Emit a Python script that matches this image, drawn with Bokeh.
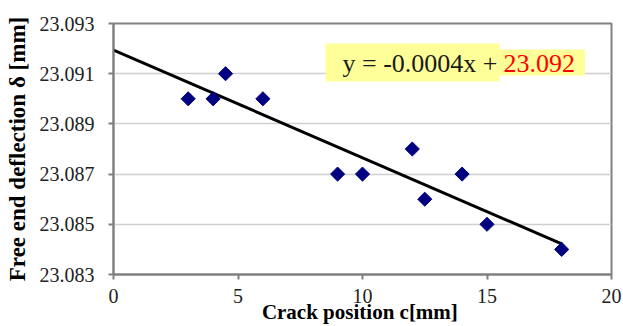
import numpy as np
from bokeh.plotting import figure
from bokeh.models import Range1d, FixedTicker, PrintfTickFormatter, Label, ColumnDataSource
from bokeh.embed import file_html
from bokeh.resources import INLINE

# ---- data ----
crack_pos = [3, 4, 4.5, 6, 9, 10, 12, 12.5, 14, 15, 18]
deflection = [23.090, 23.090, 23.091, 23.090, 23.087, 23.087, 23.088,
              23.086, 23.087, 23.085, 23.084]
x_ticks = [0, 5, 10, 15, 20]
y_ticks = [23.083, 23.085, 23.087, 23.089, 23.091, 23.093]
eq_black = "y = -0.0004x +"
eq_red = "23.092"
x_title = "Crack position  c[mm]"
y_title = "Free end deflection \u03b4 [mm]"

SERIF = "Liberation Serif"

p = figure(width=623, height=326, output_backend="svg", toolbar_location=None,
           x_range=Range1d(0, 20), y_range=Range1d(23.083, 23.093),
           min_border_left=113, min_border_right=12, min_border_top=23,
           min_border_bottom=52, background_fill_color="white",
           border_fill_color="white")

p.outline_line_color = "#808080"
p.outline_line_width = 2
p.xgrid.visible = False
p.ygrid.grid_line_color = "#d0d0d0"
p.ygrid.grid_line_width = 1.5

for ax in (p.xaxis[0], p.yaxis[0]):
    ax.axis_line_color = "#808080"
    ax.axis_line_width = 2
    ax.major_tick_line_color = "#808080"
    ax.major_tick_line_width = 2
    ax.major_tick_out = 5
    ax.major_tick_in = 0
    ax.minor_tick_line_color = None
    ax.major_label_text_font = SERIF
    ax.major_label_text_font_size = "20px"
    ax.major_label_text_color = "#222222"
    ax.axis_label_text_font = SERIF
    ax.axis_label_text_font_style = "bold"
    ax.axis_label_text_color = "black"

p.xaxis.axis_label_text_font_size = "21px"
p.yaxis.axis_label_text_font_size = "23px"
p.xaxis.ticker = FixedTicker(ticks=x_ticks)
p.yaxis.ticker = FixedTicker(ticks=y_ticks)
p.yaxis.formatter = PrintfTickFormatter(format="%.3f")
p.yaxis.major_label_standoff = 14
p.xaxis.major_label_standoff = 9
p.xaxis.axis_label = x_title
p.yaxis.axis_label = y_title
p.xaxis.axis_label_standoff = -6
p.yaxis.axis_label_standoff = 7

# trend line (least squares from the data)
slope, intercept = np.polyfit(crack_pos, deflection, 1)
tx = [0, max(crack_pos)]
ty = [intercept + slope * v for v in tx]
p.line(tx, ty, line_color="black", line_width=3)

src = ColumnDataSource(dict(x=crack_pos, y=deflection))
p.scatter("x", "y", source=src, marker="square", size=10, angle=np.pi / 4,
          fill_color="#000080", line_color="#000080")

# equation box (padding = left, right, top, bottom)
p.add_layout(Label(x=386, y=212, x_units="screen", y_units="screen", text=eq_black,
                   text_align="right", text_baseline="alphabetic",
                   text_font=SERIF, text_font_size="26px", text_color="#1a1a1a",
                   background_fill_color="#ffff99", padding=(17, 2, 5, 4)))
p.add_layout(Label(x=385, y=212, x_units="screen", y_units="screen", text=eq_red,
                   text_align="left", text_baseline="alphabetic",
                   text_font=SERIF, text_font_size="26px", text_color="#ff0000",
                   background_fill_color="#ffff99", padding=(5, 10, 5, 4)))

open("out.html", "w").write(file_html(p, INLINE))
